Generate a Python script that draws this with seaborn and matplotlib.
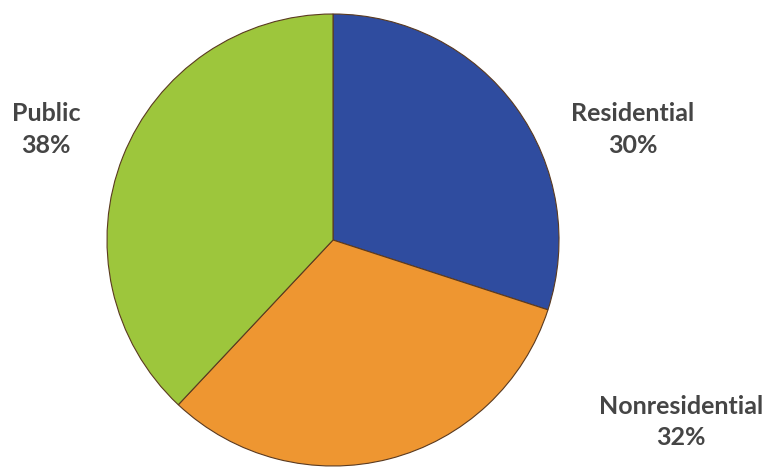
import matplotlib
matplotlib.use("Agg")
import matplotlib.pyplot as plt
import seaborn as sns

# Share of total by sector
sectors = ['Residential', 'Nonresidential', 'Public']
shares = [30, 32, 38]
colors = ['#2F4C9F', '#EE9631', '#9DC63C']

sns.set_theme(style='white')
plt.rcParams['font.family'] = ['Lato', 'DejaVu Sans']

fig = plt.figure(figsize=(7.67, 4.70), dpi=100)
ax = fig.add_axes([107 / 767, 4 / 470, 452 / 767, 452 / 470])

ax.pie(shares, colors=colors, startangle=90, counterclock=False,
       radius=1, wedgeprops={'edgecolor': '#5a3a20', 'linewidth': 0.8})
ax.set_xlim(-1, 1)
ax.set_ylim(-1, 1)
ax.set_aspect('equal')
ax.axis('off')

# label spots (data coords) picked to sit where the reference puts them
label_pos = [(1.327, 0.49), (1.54, -0.805), (-1.27, 0.49)]
for name, val, (x, y) in zip(sectors, shares, label_pos):
    ax.text(x, y, f'{name}\n{val}%', ha='center', va='center',
            fontsize=18, fontweight='bold', color='#454545', linespacing=1.45)

plt.savefig('out.png', dpi=100)
